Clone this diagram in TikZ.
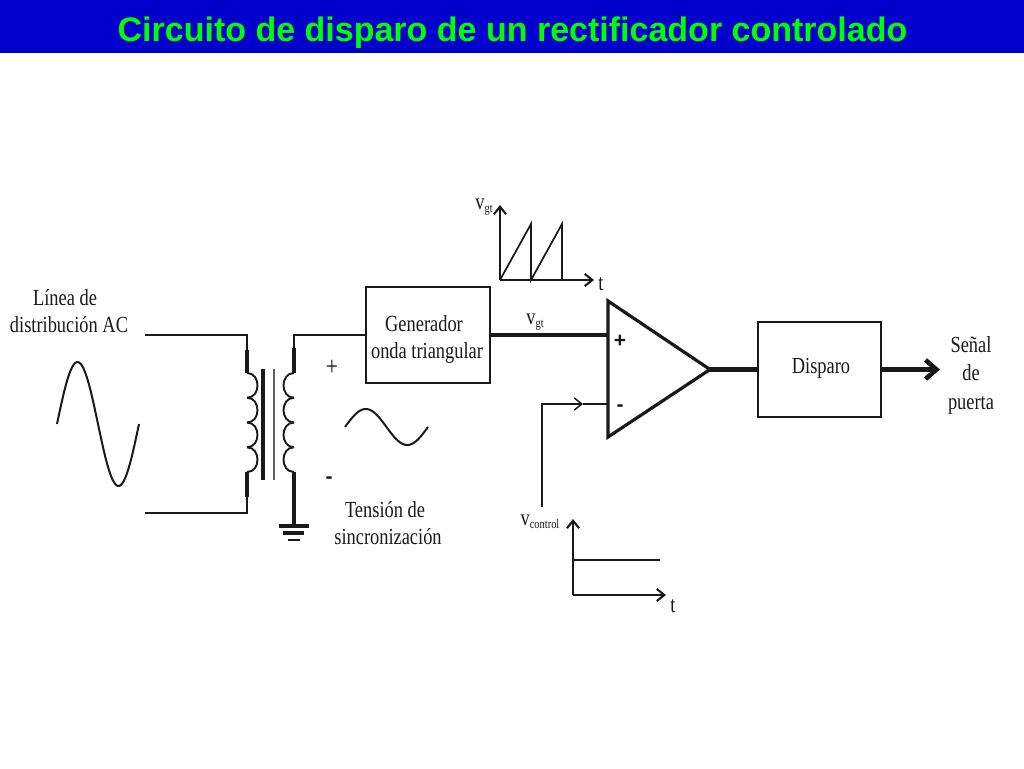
\documentclass[tikz,border=0pt]{standalone}
\usepackage{fontspec}
\setmainfont[FakeStretch=0.8]{Liberation Serif}
\newfontfamily\titlefont{Liberation Sans}
\usetikzlibrary{arrows.meta, positioning}
\definecolor{barblue}{RGB}{0,0,204}
\definecolor{titlegreen}{RGB}{0,255,0}
\definecolor{ink}{RGB}{25,25,25}
\newcommand{\lowtext}[1]{\raisebox{-3pt}{\fontsize{13}{13}\selectfont #1}}

\begin{document}
\begin{tikzpicture}[x=1pt,y=-1pt,>={Straight Barb[length=7.5pt,width=12pt]},ink]
	\tikzstyle{type}=[draw=ink, line width=1.6pt, inner sep=0pt]
	\tikzstyle{label}=[font=\fontsize{23}{27}\selectfont, align=center, inner sep=0pt]
	\tikzstyle{sign}=[font=\titlefont\fontsize{21}{21}\selectfont\bfseries, inner sep=0pt]
	\tikzstyle{thinline}=[line width=1.5pt]
	\tikzstyle{thickline}=[line width=4.6pt]
	\tikzstyle{midline}=[line width=3.2pt]
	\tikzstyle{axisline}=[line width=2.1pt]

    \useasboundingbox (0,0) rectangle (1024,768);

    \node [fill=barblue, minimum width=1024pt, minimum height=53pt, inner sep=0pt] (bar) at (512,26.5) {};
    \node [font=\titlefont\fontsize{34}{36}\selectfont\bfseries, text=titlegreen] (title) at (512.5,32.5) {Circuito de disparo de un rectificador controlado};

    % blocks
    \node [type, minimum width=124pt, minimum height=96pt] (gen) at (428,335) {};
    \node [label] (gentext) at (427,339) {Generador\hspace*{6pt}\\onda triangular};
    \node [type, minimum width=123pt, minimum height=95pt] (disp) at (819.5,369.5) {};
    \node [label] (disptext) at (821,368) {Disparo};

    % comparator
    \coordinate (cmptop) at (608,301);
    \coordinate (cmpbot) at (608,437);
    \coordinate (cmpout) at (710,369.5);
    \coordinate (cmpplus) at (608,335);
    \coordinate (cmpminus) at (608,404);
    \draw [midline, line join=miter] (cmptop) -- (cmpout) -- (cmpbot) -- cycle;
    \node [sign] (plus) at (620,341) {+};
    \node [sign] (minus) at (620,408) {-};

    \draw [thickline] (gen.east |- cmpplus) -- (cmpplus);
    \draw [thickline] (cmpout) -- (disp.west |- cmpout);
    \coordinate (gateend) at (940,369.5);
    \draw [thickline, -{Straight Barb[length=11pt,width=19pt]}] (disp.east |- cmpout) -- (gateend);
    \node [label, font=\fontsize{23}{28.5}\selectfont] (gate) at (971,375) {Señal\\de\\puerta};
    \node [label] (vgtline) at (535,322) {v\lowtext{gt}};

    % control input
    \coordinate (ctrlstart) at (542,507);
    \coordinate (ctrlbend) at (542,404);
    \coordinate (ctrlarrow) at (583,404);
    \draw [thinline, ->] (ctrlstart) -- (ctrlbend) -- (ctrlarrow);
    \draw [thinline] (ctrlarrow) -- (cmpminus);

    % transformer
    \coordinate (pritop) at (145,335);
    \coordinate (pribot) at (145,513);
    \coordinate (pria) at (247,373);
    \coordinate (prib) at (247,472);
    \coordinate (seca) at (294,373);
    \coordinate (secb) at (294,472);
    \coordinate (gnd) at (294,526);
    \draw [thinline] (pritop) -- (pria |- pritop) -- (pria);
    \draw [thinline] (pribot) -- (prib |- pribot) -- (prib);
    \draw [midline] (247,350) -- (pria);
    \draw [midline] (prib) -- (247,497);
    \draw [thinline] (gen.west) -- (seca |- gen.west) -- (seca);
    \draw [midline] (294,348) -- (seca);
    \draw [midline, line width=3.6pt] (secb) -- (gnd);
    \foreach \i in {0,1,2,3} {
        \draw [line width=1.9pt] (247,373+24.75*\i) .. controls (261,373+24.75*\i) and (261,397.75+24.75*\i) .. (247,397.75+24.75*\i);
        \draw [line width=1.9pt] (294,373+24.75*\i) .. controls (280,373+24.75*\i) and (280,397.75+24.75*\i) .. (294,397.75+24.75*\i);
    }
    \draw [line width=3.4pt] (263,369) -- (263,480);
    \draw [line width=1.2pt, ink!70] (274,369) -- (274,480);

    % ground
    \draw [line width=3.6pt] (279,526) -- (309,526);
    \draw [line width=3.6pt] (283,533) -- (304,533);
    \draw [line width=1.2pt] (288,540) -- (300,540);

    % waves and texts
    \draw [line width=2pt] plot [domain=0:360, samples=60, smooth] ({57+\x/360*82},{424-62*sin(\x)});
    \draw [line width=2pt] plot [domain=0:360, samples=50, smooth] ({345+\x/360*83},{427-18*sin(\x)});
    \node [label] (line) at (69,311) {Línea de\hspace*{8pt}\\distribución AC};
    \node [label] (sync) at (388,523.5) {Tensión de\hspace*{6pt}\\sincronización};
    \node [label, font=\fontsize{27}{27}\selectfont] (secplus) at (332,368) {+};
    \node [sign] (secminus) at (329,480) {-};

    % sawtooth plot
    \coordinate (sawo) at (500,280);
    \coordinate (sawy) at (500,205);
    \coordinate (sawx) at (594,280);
    \draw [axisline, ->] (sawo) -- (sawy);
    \draw [axisline, ->] (sawo) -- (sawx);
    \draw [line width=1.7pt] (sawo) -- (531,224) -- (531,280) -- (562,224) -- (562,280);
    \node [label] (sawt) at (601,284) {t};
    \node [label] (sawv) at (484,207) {v\lowtext{gt}};

    % control plot
    \coordinate (ctlo) at (573,595);
    \coordinate (ctly) at (573,519);
    \coordinate (ctlx) at (666,595);
    \draw [axisline, ->] (ctlo) -- (ctly);
    \draw [axisline, ->] (ctlo) -- (ctlx);
    \draw [thinline] (573,560) -- (660,560);
    \node [label] (ctlt) at (673,606) {t};
    \node [label] (ctlv) at (540,522) {v\lowtext{control}};
\end{tikzpicture}
\end{document}
